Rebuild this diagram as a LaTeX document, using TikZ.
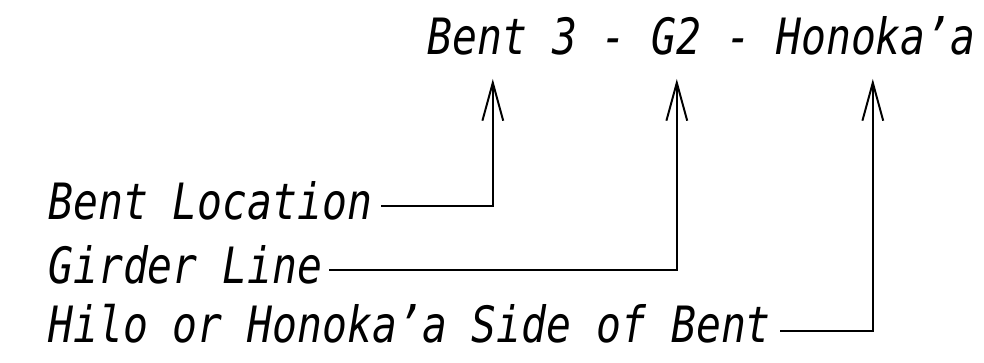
\documentclass[tikz,border=0pt]{standalone}
\usepackage{fontspec}
\newfontfamily\cadfont[FakeStretch=0.827,Ligatures=TeX]{DejaVu Sans Mono Oblique}
\usepackage{tikz}
\usetikzlibrary{arrows.meta,positioning,calc}
\tikzset{
  lbl/.style={inner sep=0pt,anchor=base west,font=\cadfont\fontsize{35.6}{40}\selectfont},
  pointer/.style={-{Straight Barb[length=9.5mm,width=5.2mm]},line width=1.4pt}, % open CAD leader tip
}

\begin{document}
\begin{tikzpicture}
\useasboundingbox (0,0) rectangle (24.6,9.075);
% Tag
\node[lbl] (tag) at (10.68,7.7) {Bent 3 - G2 - Honoka’a};

% --- Tips below the tag ---
\coordinate (pB) at (12.32,7.1);
\coordinate (pG) at (16.92,7.1);
\coordinate (pH) at (21.82,7.1);

% --- Legend ---
\node[lbl] (loc) at (1.2,3.575) {Bent Location};
\node[lbl] (gird) at (1.2,1.975) {Girder Line};
\node[lbl] (side) at (1.2,0.5) {Hilo or Honoka’a Side of Bent};

% leaders
\draw[pointer] ($(loc.base east)+(0.22,0.35)$) -| (pB);
\draw[pointer] ($(gird.base east)+(0.17,0.35)$) -| (pG);
\draw[pointer] ($(side.base east)+(0.22,0.3)$) -| (pH);
\end{tikzpicture}
\end{document}
